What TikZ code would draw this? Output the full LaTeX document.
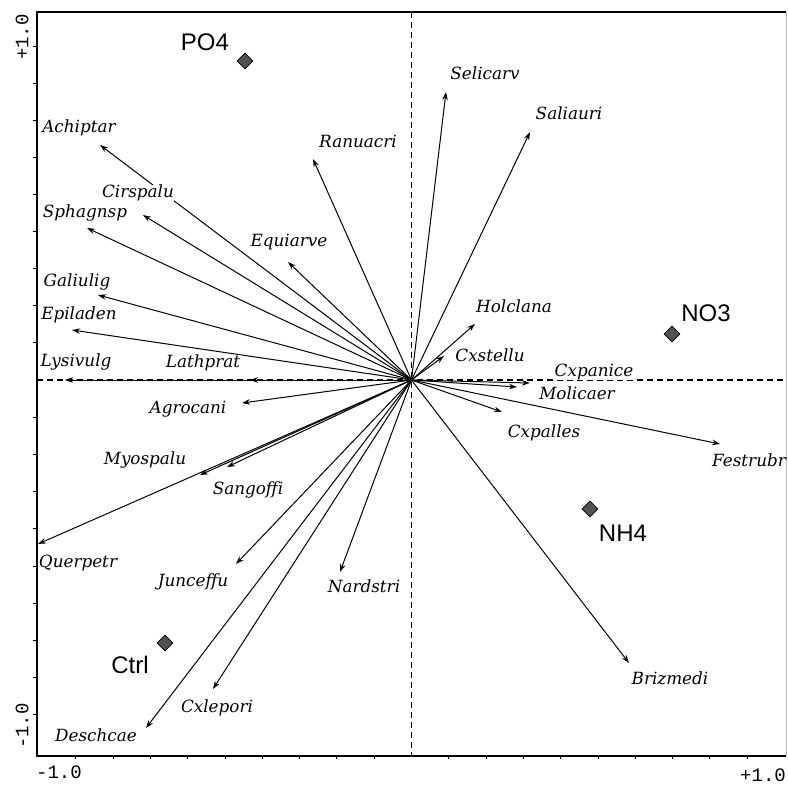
\documentclass[tikz,border=0pt]{standalone}
\usepackage{fontspec}
\setmainfont{DejaVu Serif}
\newfontfamily\trtfont{Liberation Sans}
\newfontfamily\axfont{Liberation Mono}
\usetikzlibrary{arrows.meta,shapes.geometric}
\begin{document}
\begin{tikzpicture}[x=1pt,y=-1pt,
  frameline/.style={line width=1.5pt},
  axisdash/.style={dash pattern=on 6pt off 4pt, line width=1.1pt},
  vec/.style={line width=1pt, -{Stealth[length=8pt,width=5.5pt]}},
  sp/.style={font=\fontsize{16.8}{18}\selectfont\itshape, fill=white, inner sep=0.5pt, text height=12pt, text depth=3.8pt},
  trt/.style={diamond, fill=black!68, draw=black, line width=0.7pt, minimum size=16pt, inner sep=0pt},
  trl/.style={font=\trtfont\fontsize{24}{26}\selectfont, inner sep=0pt},
  axl/.style={font=\axfont\fontsize{19}{20}\selectfont, inner sep=0pt},
  tickline/.style={line width=0.9pt}
]
\useasboundingbox (0,0) rectangle (788,787);
\fill[white] (0,0) rectangle (788,787);

% frame
\coordinate (TL) at (37,12);
\coordinate (TR) at (786,12);
\coordinate (BL) at (37,756);
\coordinate (BR) at (786,756);
\draw[frameline] (TR) -- (TL) -- (BL) -- (BR);
\draw[line width=0.5pt, black!25] (TR) -- (BR);

% ticks
\foreach \k in {1,...,9} {
  \draw[tickline] (37,{380-37.1*\k}) -- ++(-4,0);
  \draw[tickline] (37,{380+37.2*\k}) -- ++(-4,0);
  \draw[tickline] ({411.5-37.3*\k},756) -- ++(0,3);
  \draw[tickline] ({411.5+37.3*\k},756) -- ++(0,3);
}

% dashed axes
\coordinate (O) at (411.5,380);
\coordinate (AxT) at (411.5,12);
\coordinate (AxB) at (411.5,756);
\coordinate (AxL) at (37,380);
\coordinate (AxR) at (786,380);
\draw[axisdash] (AxT) -- (AxB);
\draw[axisdash] (AxL) -- (AxR);

% species vectors
\foreach \n/\tx/\ty in {
  Achiptar/100/145, Cirspalu/143/215, Sphagnsp/87/228, Equiarve/288/262,
  Ranuacri/313/159, Galiulig/98/295, Epiladen/72/330, Lathprat/250/380,
  Lysivulg/65/380, Selicarv/446/92, Saliauri/530/132, Holclana/475/324,
  Cxstellu/444/356, Cxpanice/530/383, Molicaer/517/387, Cxpalles/502/412,
  Festrubr/720/444, Brizmedi/629/663, Agrocani/242/403, Myospalu/200/475,
  Sangoffi/227/467, Querpetr/38/544, Junceffu/236/564, Nardstri/340/572,
  Deschcae/146/728, Cxlepori/213/689} {
  \coordinate (t\n) at (\tx,\ty);
  \draw[vec] (O) -- (t\n);
}

% species labels
\foreach \n/\lx/\ly in {
  Achiptar/79/128, Cirspalu/138/193, Sphagnsp/85/213, Equiarve/289/242,
  Ranuacri/358/143, Galiulig/77/282, Epiladen/79/315, Lathprat/203/363,
  Lysivulg/76/362, Selicarv/485/75, Saliauri/569/115, Holclana/514/308,
  Cxstellu/490/357, Cxpanice/594/372, Molicaer/577/395, Cxpalles/544/433,
  Festrubr/749/462, Brizmedi/670/680, Agrocani/188/409, Myospalu/145/460,
  Sangoffi/248/490, Querpetr/78/563, Junceffu/193/582, Nardstri/364/588,
  Deschcae/96/737, Cxlepori/217/708} {
  \node[sp] (l\n) at (\lx,\ly) {\n};
}

% treatments
\node[trt] (dPO4) at (245,61) {};
\node[trt] (dNO3) at (672,334) {};
\node[trt] (dNH4) at (590,509) {};
\node[trt] (dCtrl) at (165,643) {};
\node[trl] (lPO4) at (205,42) {PO4};
\node[trl] (lNO3) at (706,313) {NO3};
\node[trl] (lNH4) at (623,533) {NH4};
\node[trl] (lCtrl) at (130,665) {Ctrl};

% axis labels
\node[axl, rotate=90] (yTop) at (22,37) {+1.0};
\node[axl, rotate=90] (yBot) at (22,726) {-1.0};
\node[axl] (xLeft) at (59,772) {-1.0};
\node[axl] (xRight) at (763,775) {+1.0};
\end{tikzpicture}
\end{document}
